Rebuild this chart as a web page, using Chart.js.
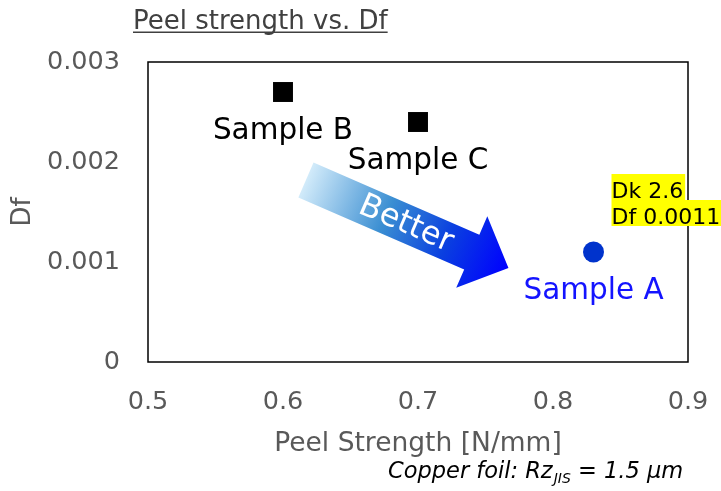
<!DOCTYPE html>
<html>
<head>
<meta charset="utf-8">
<script src="https://cdn.jsdelivr.net/npm/chart.js@4.4.4/dist/chart.umd.min.js"></script>
<style>
  html, body { margin: 0; padding: 0; background: #fff; }
  #wrap { width: 721px; height: 491px; }
</style>
</head>
<body>
<div id="wrap"><canvas id="chart" width="721" height="491"></canvas></div>
<script>
// data
const samples = ['Sample A', 'Sample B', 'Sample C']
const peelStrength = [0.83, 0.6, 0.7]
const dfValues = [0.0011, 0.0027, 0.0024]
const xTicks = [0.5, 0.6, 0.7, 0.8, 0.9]
const yTicks = [0, 0.001, 0.002, 0.003]
const noteLines = ['Dk 2.6', 'Df 0.0011']

const markerShapes = ['circle', 'rect', 'rect']
const markerColors = ['#0033cc', '#000000', '#000000']
const labelColors = ['#1414ff', '#000000', '#000000']

const FONT = "'DejaVu Sans', sans-serif"
const GREY = '#595959'

const decorations = {
    id: 'decorations',
    beforeDatasetsDraw(chart) {
        const { ctx, chartArea: a, scales: { x, y } } = chart
        ctx.save()
        ctx.strokeStyle = '#000'
        ctx.lineWidth = 1.5
        ctx.strokeRect(a.left, a.top, a.right - a.left, a.bottom - a.top)

        // "Better" arrow, anchored in data space
        const x0 = x.getPixelForValue(0.617), y0 = y.getPixelForValue(0.00182)
        const x1 = x.getPixelForValue(0.767), y1 = y.getPixelForValue(0.00094)
        const len = Math.hypot(x1 - x0, y1 - y0)
        ctx.translate(x0, y0)
        ctx.rotate(Math.atan2(y1 - y0, x1 - x0))
        const g = ctx.createLinearGradient(0, 0, len, 0)
        g.addColorStop(0, '#d2ebfa')
        g.addColorStop(0.4, '#3a8ed2')
        g.addColorStop(0.7, '#0a3fe0')
        g.addColorStop(1, '#0000ff')
        ctx.fillStyle = g
        const hw = 19, hh = 39, hl = 40
        ctx.beginPath()
        ctx.moveTo(0, -hw)
        ctx.lineTo(len - hl, -hw)
        ctx.lineTo(len - hl, -hh)
        ctx.lineTo(len, 0)
        ctx.lineTo(len - hl, hh)
        ctx.lineTo(len - hl, hw)
        ctx.lineTo(0, hw)
        ctx.closePath()
        ctx.fill()
        ctx.fillStyle = '#fff'
        ctx.font = '32px ' + FONT
        ctx.textAlign = 'center'
        ctx.textBaseline = 'middle'
        ctx.fillText('Better', len * 0.495, 1)
        ctx.restore()
    },
    afterDatasetsDraw(chart) {
        const { ctx } = chart
        const pts = chart.getDatasetMeta(0).data
        ctx.save()

        // sample labels under each marker
        ctx.font = '29.5px ' + FONT
        ctx.textAlign = 'center'
        ctx.textBaseline = 'alphabetic'
        pts.forEach((p, i) => {
            ctx.fillStyle = labelColors[i]
            ctx.fillText(samples[i], p.x, p.y + 47)
        })

        // yellow note next to Sample A
        const pa = pts[0]
        ctx.font = '22px ' + FONT
        ctx.textAlign = 'left'
        const tx = pa.x + 18
        noteLines.forEach((line, i) => {
            const base = pa.y - 54 + i * 26
            const w = ctx.measureText(line).width
            ctx.fillStyle = '#ffff00'
            ctx.fillRect(tx, base - 24, w + 2, 26)
        })
        noteLines.forEach((line, i) => {
            ctx.fillStyle = '#000'
            ctx.fillText(line, tx, pa.y - 54 + i * 26)
        })

        // underlined title
        ctx.font = '26px ' + FONT
        ctx.fillStyle = '#404040'
        const title = 'Peel strength vs. Df'
        ctx.fillText(title, 133, 29)
        const tw = ctx.measureText(title).width
        ctx.fillRect(133, 31.5, tw, 1.5)

        // footnote
        let fx = 388
        const fy = 478
        ctx.fillStyle = '#000'
        ctx.font = 'italic 22.5px ' + FONT
        ctx.fillText('Copper foil: Rz', fx, fy)
        fx += ctx.measureText('Copper foil: Rz').width + 1
        ctx.font = 'italic 14px ' + FONT
        ctx.fillText('JIS', fx, fy + 5)
        fx += ctx.measureText('JIS').width
        ctx.font = 'italic 22.5px ' + FONT
        ctx.fillText(' = 1.5 \u03bcm', fx, fy)
        ctx.restore()
    }
}

new Chart(document.getElementById('chart'), {
    type: 'scatter',
    data: {
        datasets: [{
            label: 'Samples',
            data: peelStrength.map((v, i) => ({ x: v, y: dfValues[i] })),
            pointStyle: markerShapes,
            backgroundColor: markerColors,
            borderColor: markerColors,
            borderWidth: 0,
            pointRadius: markerShapes.map(s => s === 'rect' ? 14.1 : 10.5),
        }]
    },
    options: {
        responsive: false,
        animation: false,
        layout: { padding: { top: 62, right: 33, left: 0, bottom: 0 } },
        plugins: {
            legend: { display: false },
            tooltip: { enabled: false },
        },
        scales: {
            x: {
                type: 'linear',
                min: 0.5,
                max: 0.9,
                afterBuildTicks: s => { s.ticks = xTicks.map(v => ({ value: v })) },
                afterFit: s => { s.height = 129; s.paddingLeft = 0; s.paddingRight = 0 },
                grid: { display: false, drawTicks: false },
                border: { display: false },
                ticks: {
                    color: GREY, padding: 25, maxRotation: 0,
                    font: { family: FONT, size: 25.5 },
                    callback: v => String(v),
                },
                title: {
                    display: true, text: 'Peel Strength [N/mm]', color: GREY,
                    font: { family: FONT, size: 26.5 },
                    padding: { top: 0, bottom: 31 },
                },
            },
            y: {
                type: 'linear',
                min: 0,
                max: 0.003,
                afterBuildTicks: s => { s.ticks = yTicks.map(v => ({ value: v })) },
                afterFit: s => { s.width = 148; s.paddingTop = 0; s.paddingBottom = 0 },
                grid: { display: false, drawTicks: false },
                border: { display: false },
                ticks: {
                    color: GREY, padding: 28,
                    font: { family: FONT, size: 25.5 },
                    callback: v => String(v),
                },
                title: {
                    display: true, text: 'Df', color: GREY,
                    font: { family: FONT, size: 26 },
                    padding: { top: 8, bottom: 0 },
                },
            },
        },
    },
    plugins: [decorations],
})
</script>
</body>
</html>
